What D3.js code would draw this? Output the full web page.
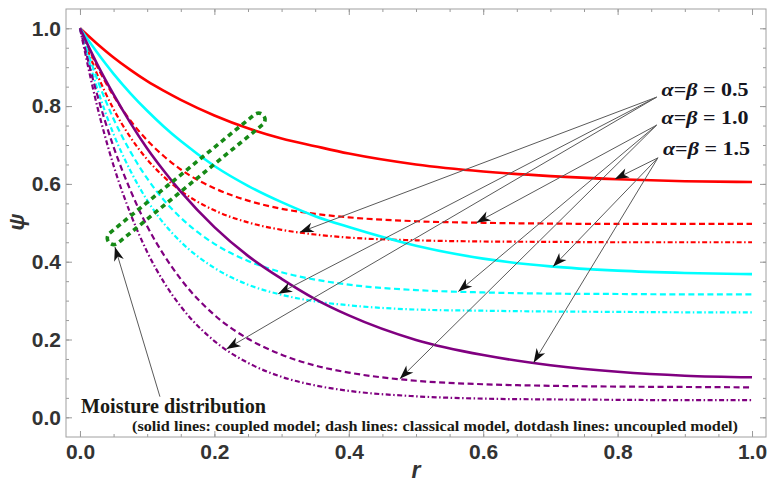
<!DOCTYPE html>
<html lang="en">
<head>
<meta charset="utf-8">
<title>Moisture distribution</title>
<script src="https://cdn.jsdelivr.net/npm/d3@7"></script>
<style>
  body { margin: 0; background: #fff; }
  svg { display: block; }
</style>
</head>
<body>
<svg id="chart" width="768" height="482"></svg>
<script>
// ---------------- data ----------------
var rVals = [0, 0.025, 0.05, 0.075, 0.1, 0.125, 0.15, 0.2, 0.25, 0.3, 0.35, 0.4, 0.5, 0.6, 0.7, 0.8, 0.9, 1.0];

var redSolid      = [1, 0.961, 0.925, 0.893, 0.864, 0.839, 0.816, 0.776, 0.743, 0.717, 0.697, 0.678, 0.650, 0.632, 0.620, 0.612, 0.607, 0.605];
var redDashed     = [1, 0.904, 0.826, 0.763, 0.712, 0.671, 0.637, 0.589, 0.557, 0.536, 0.523, 0.514, 0.504, 0.500, 0.498, 0.497, 0.497, 0.497];
var redDotDash    = [1, 0.884, 0.792, 0.720, 0.663, 0.618, 0.582, 0.532, 0.501, 0.482, 0.470, 0.462, 0.455, 0.452, 0.451, 0.450, 0.450, 0.450];
var cyanSolid     = [1, 0.939, 0.883, 0.833, 0.788, 0.747, 0.710, 0.646, 0.595, 0.553, 0.517, 0.489, 0.441, 0.408, 0.388, 0.377, 0.371, 0.368];
var cyanDashed    = [1, 0.872, 0.767, 0.683, 0.614, 0.558, 0.513, 0.446, 0.402, 0.373, 0.354, 0.341, 0.327, 0.321, 0.318, 0.317, 0.316, 0.316];
var cyanDotDash   = [1, 0.849, 0.728, 0.634, 0.558, 0.498, 0.451, 0.384, 0.341, 0.315, 0.298, 0.288, 0.277, 0.274, 0.272, 0.271, 0.270, 0.270];
var purpleSolid   = [1, 0.910, 0.830, 0.757, 0.691, 0.633, 0.580, 0.489, 0.415, 0.356, 0.304, 0.262, 0.199, 0.160, 0.134, 0.117, 0.107, 0.103];
var purpleDashed  = [1, 0.833, 0.695, 0.584, 0.491, 0.417, 0.355, 0.263, 0.202, 0.161, 0.133, 0.115, 0.094, 0.085, 0.081, 0.079, 0.078, 0.077];
var purpleDotDash = [1, 0.804, 0.647, 0.524, 0.425, 0.347, 0.285, 0.196, 0.140, 0.104, 0.082, 0.068, 0.054, 0.048, 0.046, 0.045, 0.044, 0.044];

var xTicks = [0, 0.2, 0.4, 0.6, 0.8, 1.0];
var yTicks = [0, 0.2, 0.4, 0.6, 0.8, 1.0];
var paramLabels = ["0.5", "1.0", "1.5"];
var noteTitle = "Moisture distribution";
var noteText = "(solid lines: coupled model; dash lines: classical model, dotdash lines: uncoupled model)";

// ---------------- layout ----------------
var frame = { left: 66, right: 766, top: 9, bottom: 437 };
var svg = d3.select("#chart");

var x = d3.scaleLinear().domain([-0.0208, 1.0208]).range([frame.left, frame.right]);
var y = d3.scaleLinear().domain([-0.0506, 1.0496]).range([frame.bottom, frame.top]);

var dashStyle = { solid: null, dashed: "6,3.5", dotdash: "5,2.5,1.5,2.5" };
var widthStyle = { solid: 2.6, dashed: 2.2, dotdash: 2.2 };

var series = [
  { key: "redDotDash",    vals: redDotDash,    color: "#ff0000", kind: "dotdash" },
  { key: "cyanDotDash",   vals: cyanDotDash,   color: "#00ffff", kind: "dotdash" },
  { key: "purpleDotDash", vals: purpleDotDash, color: "#800080", kind: "dotdash" },
  { key: "redDashed",     vals: redDashed,     color: "#ff0000", kind: "dashed" },
  { key: "cyanDashed",    vals: cyanDashed,    color: "#00ffff", kind: "dashed" },
  { key: "purpleDashed",  vals: purpleDashed,  color: "#800080", kind: "dashed" },
  { key: "redSolid",      vals: redSolid,      color: "#ff0000", kind: "solid" },
  { key: "cyanSolid",     vals: cyanSolid,     color: "#00ffff", kind: "solid" },
  { key: "purpleSolid",   vals: purpleSolid,   color: "#800080", kind: "solid" }
];
series.forEach(function (s) {
  s.points = rVals.map(function (r, i) { return [r, s.vals[i]]; });
});
var byKey = {};
series.forEach(function (s) { byKey[s.key] = s; });

// value of a series at r, on the drawn curve (linear between read points)
function valueAt(s, r) {
  var i = d3.bisectLeft(rVals, r);
  if (i <= 0) return s.vals[0];
  var t = (r - rVals[i - 1]) / (rVals[i] - rVals[i - 1]);
  return s.vals[i - 1] + t * (s.vals[i] - s.vals[i - 1]);
}

// ---------------- frame and ticks ----------------
var minor = d3.range(0, 1.0001, 0.05);
var fmt = d3.format(".1f");

function styleAxis(g) {
  g.select(".domain").remove();
  g.selectAll(".tick line").attr("stroke", "#9a9a9a");
  g.selectAll(".tick text")
    .attr("fill", "#333")
    .style("font-family", "'Liberation Sans', Arial, sans-serif")
    .style("font-weight", "bold")
    .style("font-size", "21px");
}

svg.append("g").attr("transform", "translate(0," + frame.bottom + ")")
  .call(d3.axisBottom(x).tickValues(minor).tickSize(-3).tickFormat("")).call(styleAxis);
svg.append("g").attr("transform", "translate(0," + frame.bottom + ")")
  .call(d3.axisBottom(x).tickValues(xTicks).tickSize(-6).tickPadding(7).tickFormat(fmt)).call(styleAxis);
svg.append("g").attr("transform", "translate(0," + frame.top + ")")
  .call(d3.axisTop(x).tickValues(minor).tickSize(-3).tickFormat("")).call(styleAxis);
svg.append("g").attr("transform", "translate(0," + frame.top + ")")
  .call(d3.axisTop(x).tickValues(xTicks).tickSize(-6).tickFormat("")).call(styleAxis);

svg.append("g").attr("transform", "translate(" + frame.left + ",0)")
  .call(d3.axisLeft(y).tickValues(minor).tickSize(-3).tickFormat("")).call(styleAxis);
svg.append("g").attr("transform", "translate(" + frame.left + ",0)")
  .call(d3.axisLeft(y).tickValues(yTicks).tickSize(-6).tickPadding(5).tickFormat(fmt)).call(styleAxis);
svg.append("g").attr("transform", "translate(" + frame.right + ",0)")
  .call(d3.axisRight(y).tickValues(minor).tickSize(-3).tickFormat("")).call(styleAxis);
svg.append("g").attr("transform", "translate(" + frame.right + ",0)")
  .call(d3.axisRight(y).tickValues(yTicks).tickSize(-6).tickFormat("")).call(styleAxis);

svg.append("rect")
  .attr("x", frame.left).attr("y", frame.top)
  .attr("width", frame.right - frame.left).attr("height", frame.bottom - frame.top)
  .attr("fill", "none").attr("stroke", "#a0a0a0").attr("stroke-width", 1);

// axis titles
svg.append("text")
  .attr("transform", "translate(24,222) rotate(-90)")
  .attr("text-anchor", "middle")
  .attr("fill", "#333")
  .style("font-family", "'Liberation Sans', Arial, sans-serif")
  .style("font-weight", "bold").style("font-style", "italic").style("font-size", "22px")
  .text("ψ");
svg.append("text")
  .attr("x", (x(0) + x(1)) / 2).attr("y", 478)
  .attr("text-anchor", "middle")
  .attr("fill", "#333")
  .style("font-family", "'Liberation Sans', Arial, sans-serif")
  .style("font-weight", "bold").style("font-style", "italic").style("font-size", "23px")
  .text("r");

// ---------------- curves ----------------
var line = d3.line()
  .x(function (d) { return x(d[0]); })
  .y(function (d) { return y(d[1]); })
  .curve(d3.curveMonotoneX);

svg.append("g").selectAll("path")
  .data(series)
  .enter().append("path")
  .attr("d", function (d) { return line(d.points); })
  .attr("fill", "none")
  .attr("stroke", function (d) { return d.color; })
  .attr("stroke-width", function (d) { return widthStyle[d.kind]; })
  .attr("stroke-dasharray", function (d) { return dashStyle[d.kind]; });

// ---------------- annotations ----------------
var defs = svg.append("defs");
defs.append("marker")
  .attr("id", "head")
  .attr("viewBox", "-15 -6 16 12")
  .attr("refX", 0).attr("refY", 0)
  .attr("markerWidth", 16).attr("markerHeight", 12)
  .attr("markerUnits", "userSpaceOnUse")
  .attr("orient", "auto")
  .append("path")
  .attr("d", "M0,0 L-14,-5 L-10,0 L-14,5 Z")
  .attr("fill", "#111");

// label anchor (data coords) and the r where each arrow touches its curve
var anchors = [
  { r: 0.858, psi: 0.823, targets: [["redDotDash", 0.327], ["cyanDotDash", 0.295], ["purpleDotDash", 0.218]] },
  { r: 0.858, psi: 0.751, targets: [["redDashed", 0.590], ["cyanDashed", 0.563], ["purpleDashed", 0.476]] },
  { r: 0.860, psi: 0.667, targets: [["redSolid", 0.796], ["cyanSolid", 0.704], ["purpleSolid", 0.675]] }
];

var ann = svg.append("g");
anchors.forEach(function (a, i) {
  a.targets.forEach(function (t) {
    var s = byKey[t[0]];
    ann.append("line")
      .attr("x1", x(a.r)).attr("y1", y(a.psi))
      .attr("x2", x(t[1])).attr("y2", y(valueAt(s, t[1])))
      .attr("stroke", "#5a5a5a").attr("stroke-width", 1)
      .attr("marker-end", "url(#head)");
  });
  var lab = ann.append("text")
    .attr("x", x(a.r) + 5).attr("y", y(a.psi) - 1 + (i === 2 ? -2 : 0))
    .attr("fill", "#151520")
    .attr("textLength", 87).attr("lengthAdjust", "spacingAndGlyphs")
    .style("font-family", "'Liberation Serif', 'Times New Roman', serif")
    .style("font-weight", "bold").style("font-size", "18px");
  lab.append("tspan").style("font-style", "italic").text("α");
  lab.append("tspan").text("=");
  lab.append("tspan").style("font-style", "italic").text("β");
  lab.append("tspan").text(" = " + paramLabels[i]);
});

// dashed green outline marking the moisture curves
var ringC = [x(0.158), y(0.613)];
ann.append("rect")
  .attr("x", -100).attr("y", -6.5).attr("width", 200).attr("height", 13)
  .attr("rx", 6.5).attr("ry", 6.5)
  .attr("transform", "translate(" + ringC[0] + "," + ringC[1] + ") rotate(-39.3)")
  .attr("fill", "none").attr("stroke", "#168a16")
  .attr("stroke-width", 3.6).attr("stroke-dasharray", "5,4");

ann.append("line")
  .attr("x1", x(0.119)).attr("y1", y(0.053))
  .attr("x2", x(0.052)).attr("y2", y(0.438))
  .attr("stroke", "#5a5a5a").attr("stroke-width", 1)
  .attr("marker-end", "url(#head)");

ann.append("text")
  .attr("x", 81).attr("y", 413)
  .attr("fill", "#1a1a14")
  .attr("textLength", 185).attr("lengthAdjust", "spacingAndGlyphs")
  .style("font-family", "'Liberation Serif', 'Times New Roman', serif")
  .style("font-weight", "bold").style("font-size", "20px")
  .text(noteTitle);

ann.append("text")
  .attr("x", 132).attr("y", 431)
  .attr("fill", "#1a1a14")
  .attr("textLength", 606).attr("lengthAdjust", "spacingAndGlyphs")
  .style("font-family", "'Liberation Serif', 'Times New Roman', serif")
  .style("font-weight", "bold").style("font-size", "14px")
  .text(noteText);
</script>
</body>
</html>
